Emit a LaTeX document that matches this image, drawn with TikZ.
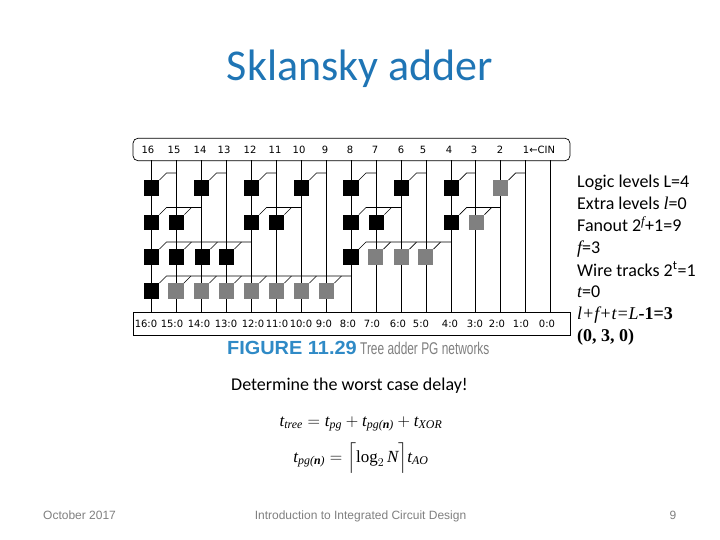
\documentclass[tikz,border=0pt]{standalone}
\usepackage{amsmath,amssymb}
\usepackage{xcolor}
\usepackage{fontspec}
\setmainfont{Carlito}
\newfontfamily\lblfont{DejaVu Sans}
\newfontfamily\footfont{Liberation Sans}
\newfontfamily\figfont[FakeStretch=1.05]{Liberation Sans}
\newfontfamily\capfont[FakeStretch=0.7]{Liberation Sans}
\newfontfamily\sersif{Liberation Serif}
\usetikzlibrary{arrows.meta,positioning,calc}
\definecolor{accent}{HTML}{1F75B5}
\definecolor{capblue}{HTML}{2F8AC6}
\definecolor{greycell}{HTML}{808080}
\definecolor{greyfoot}{HTML}{7F7F7F}
\newcommand{\tap}[2]{\draw[wire] (#1.north east) -- ($(#1.north east)+(7,-7)$) -- ($(#1.north east -| #2)+(0,-7)$);}
\newcommand{\stub}[1]{\draw[wire] (#1.north east) -- ($(#1.north east)+(7,-7)$);}
\newcommand{\tv}[1]{\text{\sersif\itshape t}_{\text{\sersif\itshape #1}}}
\begin{document}
\begin{tikzpicture}[
  x=1pt,y=-1pt,
  wire/.style={draw=black,line width=0.7pt},
  blk/.style={draw=none,fill=black,minimum size=15.5pt,inner sep=0pt},
  gry/.style={blk,fill=greycell},
  bar/.style={draw=black,line width=0.7pt,minimum width=437pt,minimum height=22.5pt,inner sep=0pt},
  lbl/.style={font=\lblfont\fontsize{10}{12}\selectfont,inner sep=0pt},
  note/.style={anchor=base west,inner sep=0pt,font=\fontsize{18}{21}\selectfont},
  foot/.style={font=\footfont\fontsize{12}{14}\selectfont,text=greyfoot,inner sep=0pt}
]
\useasboundingbox (0,0) rectangle (720,540);

\node[inner sep=0pt,text=accent,font=\fontsize{44}{50}\selectfont] (title) at (360,69) {Sklansky adder};

% bit columns
\coordinate (t16) at (151.5,160.5); \coordinate (b16) at (151.5,313); \draw[wire] (t16) -- (b16);
\coordinate (t15) at (176.5,160.5); \coordinate (b15) at (176.5,313); \draw[wire] (t15) -- (b15);
\coordinate (t14) at (201.5,160.5); \coordinate (b14) at (201.5,313); \draw[wire] (t14) -- (b14);
\coordinate (t13) at (226.5,160.5); \coordinate (b13) at (226.5,313); \draw[wire] (t13) -- (b13);
\coordinate (t12) at (251.5,160.5); \coordinate (b12) at (251.5,313); \draw[wire] (t12) -- (b12);
\coordinate (t11) at (276.5,160.5); \coordinate (b11) at (276.5,313); \draw[wire] (t11) -- (b11);
\coordinate (t10) at (301.5,160.5); \coordinate (b10) at (301.5,313); \draw[wire] (t10) -- (b10);
\coordinate (t9) at (326.5,160.5); \coordinate (b9) at (326.5,313); \draw[wire] (t9) -- (b9);
\coordinate (t8) at (351.5,160.5); \coordinate (b8) at (351.5,313); \draw[wire] (t8) -- (b8);
\coordinate (t7) at (376.5,160.5); \coordinate (b7) at (376.5,313); \draw[wire] (t7) -- (b7);
\coordinate (t6) at (401.5,160.5); \coordinate (b6) at (401.5,313); \draw[wire] (t6) -- (b6);
\coordinate (t5) at (426.5,160.5); \coordinate (b5) at (426.5,313); \draw[wire] (t5) -- (b5);
\coordinate (t4) at (451,160.5); \coordinate (b4) at (451,313); \draw[wire] (t4) -- (b4);
\coordinate (t3) at (475.5,160.5); \coordinate (b3) at (475.5,313); \draw[wire] (t3) -- (b3);
\coordinate (t2) at (500.5,160.5); \coordinate (b2) at (500.5,313); \draw[wire] (t2) -- (b2);
\coordinate (t1) at (525.5,160.5); \coordinate (b1) at (525.5,313); \draw[wire] (t1) -- (b1);
\coordinate (t0) at (550.5,160.5); \coordinate (b0) at (550.5,313); \draw[wire] (t0) -- (b0);

\node[bar,rounded corners=5pt] (inbar) at (351.5,149.5) {};
\node[bar] (outbar) at (351.5,324) {};

\node[lbl] (n16) at (148,150) {16};
\node[lbl] (n15) at (174,150) {15};
\node[lbl] (n14) at (200,150) {14};
\node[lbl] (n13) at (224,150) {13};
\node[lbl] (n12) at (250,150) {12};
\node[lbl] (n11) at (275,150) {11};
\node[lbl] (n10) at (299,150) {10};
\node[lbl] (n9) at (325,150) {9};
\node[lbl] (n8) at (350,150) {8};
\node[lbl] (n7) at (375,150) {7};
\node[lbl] (n6) at (401,150) {6};
\node[lbl] (n5) at (423,150) {5};
\node[lbl] (n4) at (449,150) {4};
\node[lbl] (n3) at (474,150) {3};
\node[lbl] (n2) at (500,150) {2};
\node[lbl] (n1) at (539,150) {1←CIN};

\node[lbl] (s16) at (146,324) {16:0};
\node[lbl] (s15) at (172,324) {15:0};
\node[lbl] (s14) at (199,324) {14:0};
\node[lbl] (s13) at (226,324) {13:0};
\node[lbl] (s12) at (253,324) {12:0};
\node[lbl] (s11) at (277,324) {11:0};
\node[lbl] (s10) at (301,324) {10:0};
\node[lbl] (s9) at (324,324) {9:0};
\node[lbl] (s8) at (348,324) {8:0};
\node[lbl] (s7) at (372,324) {7:0};
\node[lbl] (s6) at (398,324) {6:0};
\node[lbl] (s5) at (421,324) {5:0};
\node[lbl] (s4) at (450,324) {4:0};
\node[lbl] (s3) at (475,324) {3:0};
\node[lbl] (s2) at (497,324) {2:0};
\node[lbl] (s1) at (521,324) {1:0};
\node[lbl] (s0) at (547,324) {0:0};

% level 1
\node[blk] (c16a) at (151.5,188) {};
\node[blk] (c14a) at (201.5,188) {};
\node[blk] (c12a) at (251.5,188) {};
\node[blk] (c10a) at (301.5,188) {};
\node[blk] (c8a) at (351,188) {};
\node[blk] (c6a) at (401.5,188) {};
\node[blk] (c4a) at (451.5,188) {};
\node[gry] (c2a) at (500.5,188) {};
\tap{c16a}{t15} \tap{c14a}{t13} \tap{c12a}{t11} \tap{c10a}{t9}
\tap{c8a}{t7} \tap{c6a}{t5} \tap{c4a}{t3} \tap{c2a}{t1}

% level 2
\node[blk] (c16b) at (151.5,222.5) {};
\node[blk] (c15b) at (176.5,222.5) {};
\node[blk] (c12b) at (251.5,222.5) {};
\node[blk] (c11b) at (276.5,222.5) {};
\node[blk] (c8b) at (351,222.5) {};
\node[blk] (c7b) at (376.5,222.5) {};
\node[blk] (c4b) at (451.5,222.5) {};
\node[gry] (c3b) at (476.5,222.5) {};
\tap{c16b}{t14} \stub{c15b} \tap{c12b}{t10} \stub{c11b}
\tap{c8b}{t6} \stub{c7b} \tap{c4b}{t2} \stub{c3b}

% level 3
\node[blk] (c16c) at (151.5,257) {};
\node[blk] (c15c) at (176.5,257) {};
\node[blk] (c14c) at (202.5,257) {};
\node[blk] (c13c) at (226.5,257) {};
\node[blk] (c8c) at (351,257) {};
\node[gry] (c7c) at (375.5,257) {};
\node[gry] (c6c) at (401.5,257) {};
\node[gry] (c5c) at (425.5,257) {};
\tap{c16c}{t12} \stub{c15c} \stub{c14c} \stub{c13c}
\tap{c8c}{t4} \stub{c7c} \stub{c6c} \stub{c5c}

% level 4
\node[blk] (c16d) at (151.5,291) {};
\node[gry] (c15d) at (176,291) {};
\node[gry] (c14d) at (201.5,291) {};
\node[gry] (c13d) at (226.5,291) {};
\node[gry] (c12d) at (251.5,291) {};
\node[gry] (c11d) at (276.5,291) {};
\node[gry] (c10d) at (301.5,291) {};
\node[gry] (c9d) at (326.5,291) {};
\tap{c16d}{t8} \stub{c15d} \stub{c14d} \stub{c13d}
\stub{c12d} \stub{c11d} \stub{c10d} \stub{c9d}

\node[inner sep=0pt,anchor=east,text=capblue,font=\figfont\bfseries\fontsize{19}{22}\selectfont] (figno) at (357,348) {FIGURE 11.29};
\node[inner sep=0pt,anchor=west,text=greyfoot,font=\capfont\fontsize{17}{20}\selectfont] (figcap) at (360,348) {Tree adder PG networks};

\node[note] (logic) at (577,188) {Logic levels L=4};
\node[note] (extra) at (577,210) {Extra levels {\sersif\itshape l}=0};
\node[note] (fanout) at (577,232) {Fanout 2\textsuperscript{\sersif\itshape f}+1=9};
\node[note] (fval) at (577,254) {{\sersif\itshape f}=3};
\node[note] (tracks) at (577,276) {Wire tracks 2\textsuperscript{t}=1};
\node[note] (tval) at (577,297) {{\sersif\itshape t}=0};
\node[note] (sum) at (577,319) {{\sersif\itshape l+f+t=L}{\sersif\bfseries -1=3}};
\node[note] (triple) at (577,341) {{\sersif\bfseries (0, 3, 0)}};

\node[inner sep=0pt,font=\fontsize{18}{20}\selectfont] (ask) at (349.5,386) {Determine the worst case delay!};
\node[inner sep=0pt,font=\fontsize{17}{20}\selectfont] (eqtree) at (361,424) {$\tv{tree}=\tv{pg}+\tv{pg(\textbf{n})}+\tv{XOR}$};
\node[inner sep=0pt,font=\fontsize{17}{20}\selectfont] (eqpg) at (361,458) {$\tv{pg(\textbf{n})}=\Big\lceil\text{\sersif log}_{2}\,\text{\sersif\itshape N}\Big\rceil\tv{AO}$};

\node[foot,anchor=west] (date) at (43,515) {October 2017};
\node[foot] (course) at (360.5,516.5) {Introduction to Integrated Circuit Design};
\node[foot] (page) at (673,515) {9};
\end{tikzpicture}
\end{document}
